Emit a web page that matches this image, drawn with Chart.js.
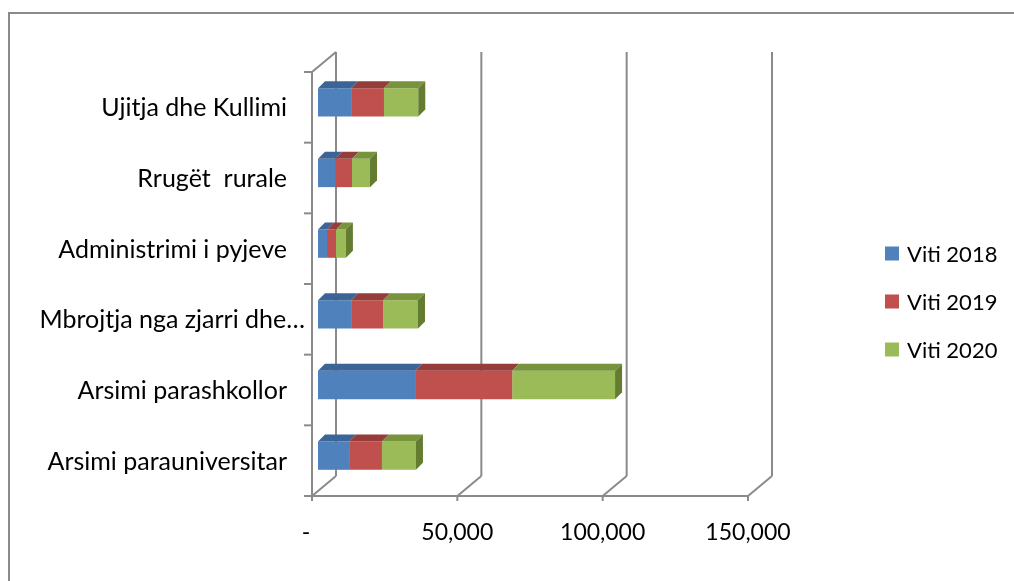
<!DOCTYPE html>
<html>
<head>
<meta charset="utf-8">
<script src="https://cdn.jsdelivr.net/npm/chart.js@4.4.1/dist/chart.umd.min.js"></script>
<style>
  html, body { margin: 0; padding: 0; background: #fff; }
  #wrap { width: 1014px; height: 581px; position: relative; }
</style>
</head>
<body>
<div id="wrap"><canvas id="barchart"></canvas></div>
<script>
// data
var categories = ["Ujitja dhe Kullimi", "Rrugët  rurale", "Administrimi i pyjeve",
                  "Mbrojtja nga zjarri dhe…", "Arsimi parashkollor", "Arsimi parauniversitar"];
var viti2018 = [11400, 5900, 3100, 11400, 33400, 10700];
var viti2019 = [11300, 5800, 3100, 11000, 33400, 11300];
var viti2020 = [11800, 6200, 3400, 12000, 35400, 11700];
var xTicks = [0, 50000, 100000, 150000];

var FONT = 'Lato';
var GRID = '#8a8a8a';
// front plane sits (-6,+5) from the bar plane, back wall (+18,-15)
var FRONT = { dx: -6, dy: 5 };
var BACK = { dx: 18, dy: -15 };
var TOP = { dx: 7, dy: -7 };

function line(ctx, x1, y1, x2, y2) {
  ctx.beginPath();
  ctx.moveTo(x1, y1);
  ctx.lineTo(x2, y2);
  ctx.stroke();
}

var depth3d = {
  id: 'depth3d',
  beforeDatasetsDraw: function (chart) {
    var ctx = chart.ctx, a = chart.chartArea, xs = chart.scales.x;
    var fT = a.top + FRONT.dy, fB = a.bottom + FRONT.dy;
    var bT = a.top + BACK.dy, bB = a.bottom + BACK.dy;
    ctx.save();
    ctx.strokeStyle = GRID;
    ctx.lineWidth = 2;
    // left wall
    var fL = xs.getPixelForValue(0) + FRONT.dx;
    line(ctx, fL, fT, fL, fB);
    line(ctx, fL, fT, fL + 24, fT - 20);
    // floor + back wall
    var fR = xs.getPixelForValue(xTicks[xTicks.length - 1]) + FRONT.dx;
    line(ctx, fL - 1, fB, fR + 1, fB);
    xTicks.forEach(function (v) {
      var x = xs.getPixelForValue(v);
      line(ctx, x + FRONT.dx, fB, x + BACK.dx, bB);
      line(ctx, x + BACK.dx, bB, x + BACK.dx, bT);
      line(ctx, x + FRONT.dx, fB, x + FRONT.dx, fB + 5);
    });
    // category tick marks on the front left axis
    var band = (a.bottom - a.top) / categories.length;
    for (var k = 0; k <= categories.length; k++) {
      var y = fT + k * band;
      line(ctx, fL - 8, y, fL, y);
    }
    ctx.restore();
  },
  afterDatasetsDraw: function (chart) {
    var ctx = chart.ctx;
    var last = chart.data.datasets.length - 1;
    ctx.save();
    chart.data.datasets.forEach(function (ds, d) {
      chart.getDatasetMeta(d).data.forEach(function (bar) {
        var p = bar.getProps(['x', 'y', 'base', 'height'], true);
        var l = Math.min(p.x, p.base), r = Math.max(p.x, p.base);
        var t = p.y - p.height / 2, b = p.y + p.height / 2;
        ctx.fillStyle = ds.topColor;
        ctx.beginPath();
        ctx.moveTo(l, t);
        ctx.lineTo(r, t);
        ctx.lineTo(r + TOP.dx, t + TOP.dy);
        ctx.lineTo(l + TOP.dx, t + TOP.dy);
        ctx.closePath();
        ctx.fill();
        if (d === last) {
          ctx.fillStyle = ds.sideColor;
          ctx.beginPath();
          ctx.moveTo(r, t);
          ctx.lineTo(r + TOP.dx, t + TOP.dy);
          ctx.lineTo(r + TOP.dx, b + TOP.dy);
          ctx.lineTo(r, b);
          ctx.closePath();
          ctx.fill();
        }
      });
    });
    ctx.restore();
  },
  afterDraw: function (chart) {
    var ctx = chart.ctx, ys = chart.scales.y;
    ctx.save();
    // outer frame (top and left edges only)
    ctx.strokeStyle = GRID;
    ctx.lineWidth = 2;
    line(ctx, 8, 13, 1014, 13);
    line(ctx, 9, 12, 9, 581);
    // category labels, right aligned; the truncated one sticks out further
    ctx.fillStyle = '#000';
    ctx.font = '25px ' + FONT;
    ctx.textBaseline = 'middle';
    ctx.textAlign = 'right';
    categories.forEach(function (c, i) {
      var xr = c.indexOf('…') >= 0 ? 305 : 287;
      ctx.fillText(c, xr, ys.getPixelForValue(i) + FRONT.dy + 1);
    });
    // legend
    ctx.font = '22px ' + FONT;
    ctx.textAlign = 'left';
    chart.data.datasets.forEach(function (ds, i) {
      var cy = 253.5 + i * 48;
      ctx.fillStyle = ds.backgroundColor;
      ctx.fillRect(885, cy - 7, 14, 14);
      ctx.fillStyle = '#000';
      ctx.fillText(ds.label, 907, cy + 1);
    });
    ctx.restore();
  }
};

var ctx = document.getElementById('barchart');
var myBarChart = new Chart(ctx, {
  type: 'bar',
  data: {
    labels: categories,
    datasets: [{
      label: 'Viti 2018',
      data: viti2018,
      backgroundColor: '#4F81BD',
      topColor: '#3C6597',
      sideColor: '#2f5080'
    }, {
      label: 'Viti 2019',
      data: viti2019,
      backgroundColor: '#C0504D',
      topColor: '#963D3B',
      sideColor: '#7d2f2d'
    }, {
      label: 'Viti 2020',
      data: viti2020,
      backgroundColor: '#9BBB59',
      topColor: '#77933C',
      sideColor: '#637C30'
    }]
  },
  options: {
    indexAxis: 'y',
    responsive: true,
    maintainAspectRatio: false,
    animation: false,
    categoryPercentage: 1,
    barPercentage: 0.4,
    layout: { padding: { top: 67, right: 260, bottom: 10, left: 0 } },
    plugins: {
      legend: { display: false },
      tooltip: { enabled: false }
    },
    scales: {
      x: {
        stacked: true,
        min: 0,
        max: 150000,
        afterFit: function (s) { s.height = 80; },
        afterBuildTicks: function (s) {
          s.ticks = xTicks.map(function (v) { return { value: v }; });
        },
        grid: { display: false },
        border: { display: false },
        ticks: {
          color: '#000',
          font: { family: FONT, size: 23 },
          padding: 20,
          labelOffset: -6,
          callback: function (v) { return v === 0 ? '-  ' : v.toLocaleString('en-US'); }
        }
      },
      y: {
        stacked: true,
        afterFit: function (s) { s.width = 318; },
        grid: { display: false },
        border: { display: false },
        ticks: { display: false }
      }
    }
  },
  plugins: [depth3d]
});
</script>
</body>
</html>
